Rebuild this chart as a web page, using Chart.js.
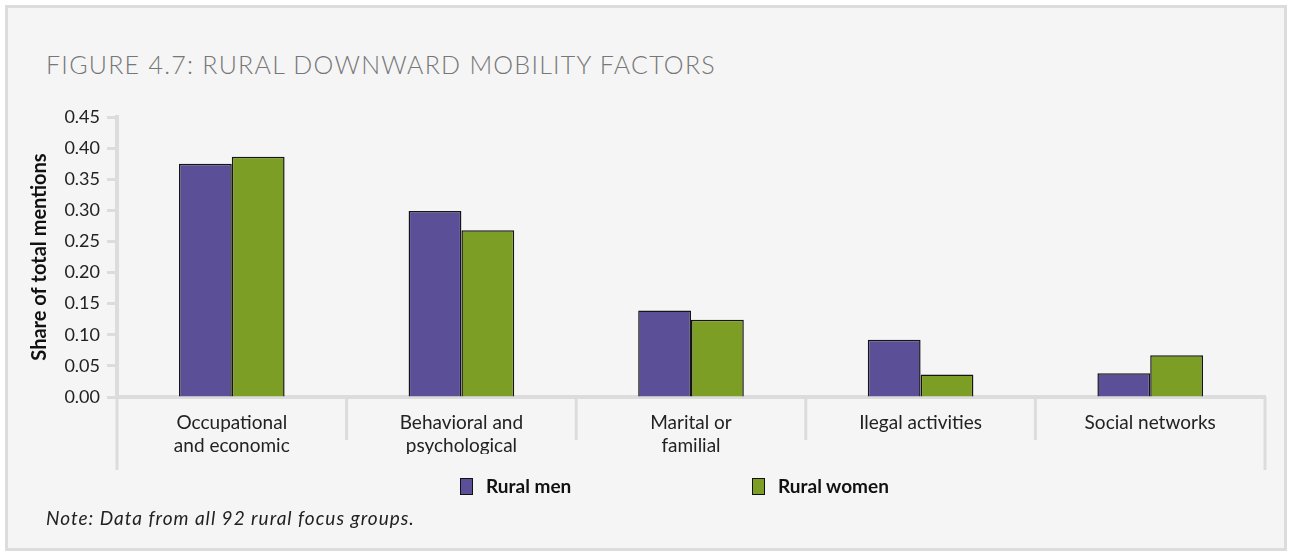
<!DOCTYPE html>
<html>
<head>
<meta charset="utf-8">
<script src="https://cdn.jsdelivr.net/npm/chart.js@4.4.0/dist/chart.umd.min.js"></script>
<style>
  html, body { margin: 0; padding: 0; background: #ffffff; }
  #wrap { position: relative; width: 1291px; height: 554px; overflow: hidden; }
  #frame {
    position: absolute; left: 5px; top: 5px; width: 1276px; height: 540px;
    border: 3px solid #dcdcdc; background: #f5f5f5;
  }
  #title {
    position: absolute; left: 46px; top: 49px; font-family: Lato, sans-serif;
    font-weight: 300; font-size: 25px; letter-spacing: 1.25px; color: #777777; white-space: nowrap;
  }
  #note {
    position: absolute; left: 46px; top: 506px; font-family: Lato, sans-serif;
    font-style: italic; font-size: 19px; letter-spacing: 1px; color: #222222; white-space: nowrap;
  }
  canvas { position: absolute; left: 0; top: 0; }
  .leg { position: absolute; top: 474px; font-family: Lato, sans-serif; font-weight: bold;
    font-size: 19px; color: #111111; white-space: nowrap; }
  .leg span.box { display: inline-block; width: 11px; height: 15px; border: 1px solid #111;
    vertical-align: -2px; margin-right: 13px; }
</style>
</head>
<body>
<div id="wrap">
  <div id="frame"></div>
  <div id="title">FIGURE 4.7: RURAL DOWNWARD MOBILITY FACTORS</div>
  <canvas id="chart" width="1291" height="554"></canvas>
  <div id="legend"></div>
  <div id="note">Note: Data from all 92 rural focus groups.</div>
</div>
<script>
// Rural downward mobility factors
const categories = [
    ['Occupational', 'and economic'],
    ['Behavioral and', 'psychological'],
    ['Marital or', 'familial'],
    'Ilegal activities',
    'Social networks'
];
const ruralMen = [0.375, 0.299, 0.139, 0.092, 0.038];
const ruralWomen = [0.386, 0.268, 0.124, 0.036, 0.067];
const yTicks = [0, 0.05, 0.10, 0.15, 0.20, 0.25, 0.30, 0.35, 0.40, 0.45];

const axisGray = '#dcdcdc';

// extends the outer axis lines below the labels and draws the category separators
const frameLines = {
    id: 'frameLines',
    afterDraw(chart) {
        const x = chart.scales.x;
        const area = chart.chartArea;
        const c = chart.ctx;
        const half = (x.getPixelForValue(1) - x.getPixelForValue(0)) / 2;
        c.save();
        c.strokeStyle = axisGray;
        c.lineWidth = 3;
        for (let i = 0; i <= categories.length; i++) {
            const px = x.getPixelForValue(0) - half + i * half * 2;
            const outer = (i === 0 || i === categories.length);
            c.beginPath();
            c.moveTo(px, area.bottom);
            c.lineTo(px, outer ? 470 : 440);
            c.stroke();
        }
        c.restore();
    }
};

const chart = new Chart(document.getElementById('chart'), {
    type: 'bar',
    data: {
        labels: categories,
        datasets: [{
            label: 'Rural men',
            data: ruralMen,
            backgroundColor: '#5b4f98',
            borderColor: '#151515',
            borderWidth: 1.5
        }, {
            label: 'Rural women',
            data: ruralWomen,
            backgroundColor: '#7c9e25',
            borderColor: '#151515',
            borderWidth: 1.5
        }]
    },
    options: {
        responsive: false,
        animation: false,
        layout: { padding: { left: 0, top: 117, right: 26, bottom: 100 } },
        datasets: { bar: { categoryPercentage: 0.46, barPercentage: 1.0 } },
        scales: {
            x: {
                afterFit: function(scale) { scale.height = 57; },
                grid: { display: true, drawOnChartArea: false, drawTicks: false, offset: true, color: 'rgba(0,0,0,0)' },
                border: { color: axisGray, width: 4 },
                ticks: {
                    padding: 15,
                    maxRotation: 0,
                    autoSkip: false,
                    color: '#222222',
                    font: { family: 'Lato', size: 19, lineHeight: 1.18 }
                }
            },
            y: {
                min: 0,
                max: 0.45,
                afterFit: function(scale) { scale.width = 117; },
                afterBuildTicks: function(scale) { scale.ticks = yTicks.map(v => ({ value: v })); },
                grid: { drawOnChartArea: false, drawTicks: true, tickLength: 10, tickColor: axisGray, tickWidth: 3 },
                border: { color: axisGray, width: 4 },
                ticks: {
                    padding: 7,
                    color: '#222222',
                    font: { family: 'Lato', size: 18 },
                    callback: v => v.toFixed(2)
                },
                title: {
                    display: true,
                    text: 'Share of total mentions',
                    color: '#111111',
                    font: { family: 'Lato', size: 20, weight: 'bold' },
                    padding: { top: 28, bottom: 0 }
                }
            }
        },
        plugins: {
            legend: { display: false },
            tooltip: { enabled: false }
        }
    },
    plugins: [frameLines]
});

// legend built from the datasets
const legendX = [460, 752];
const legendEl = document.getElementById('legend');
chart.data.datasets.forEach(function(ds, i) {
    const item = document.createElement('div');
    item.className = 'leg';
    item.style.left = legendX[i] + 'px';
    item.innerHTML = '<span class="box" style="background:' + ds.backgroundColor + '"></span>' + ds.label;
    legendEl.appendChild(item);
});
</script>
</body>
</html>
